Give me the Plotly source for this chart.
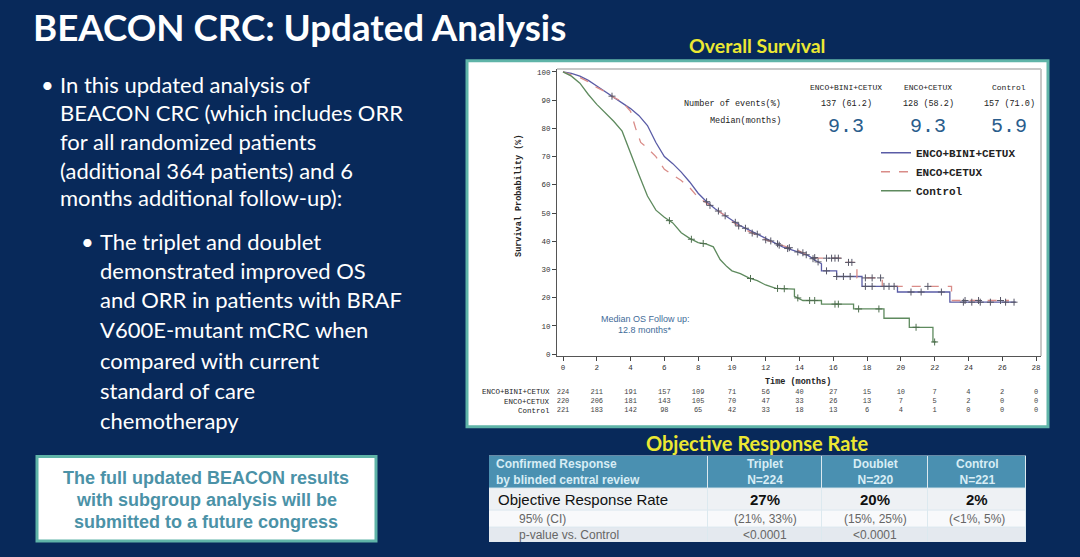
import numpy as np
import plotly.graph_objects as go

W, H = 1080, 557
def px(x): return x / W
def py(y): return 1 - y / H

# ---------------- data ----------------
arms = ["ENCO+BINI+CETUX", "ENCO+CETUX", "Control"]
events = ["137 (61.2)", "128 (58.2)", "157 (71.0)"]
medians = [9.3, 9.3, 5.9]

triplet_t = [0, 0.5, 1, 1.5, 2, 2.5, 3, 3.5, 4, 4.5, 5, 5.5, 6, 6.5, 7, 7.5, 8, 8.5, 9, 9.5, 10,
             10.5, 11, 11.5, 12, 12.5, 13, 13.5, 14, 14.5, 15, 15.3, 15.3, 16.2, 16.2, 17.7, 17.7,
             19.8, 19.8, 22.9, 22.9, 26.8]
triplet_s = [100, 99.5, 98.5, 97, 95, 93, 91, 89, 87, 84.5, 81, 75, 70, 67.5, 64.5, 61, 57, 54, 51.5, 49.5, 47.5,
             45.5, 44, 42.5, 41, 39.5, 38, 37, 36, 35, 33, 32, 29.5, 29.5, 27.5, 27.5, 24,
             24, 22, 22, 18.4, 18.4]

doublet_t = [0, 0.5, 1, 1.5, 2, 2.5, 3, 3.5, 4, 4.3, 4.6, 5, 5.5, 6, 6.5, 7, 7.5, 8, 8.5, 9, 9.5, 10,
             10.5, 11, 11.5, 12, 12.5, 13, 13.5, 14, 14.5, 15, 16.6, 16.6, 17.4, 17.4, 18.9, 18.9,
             23.0, 23.0, 26.4]
doublet_s = [100, 99, 98, 96.5, 94.5, 93, 91, 89.5, 86, 80, 75, 73, 70, 65.5, 63.5, 61.5, 59, 55.5, 53.5, 51.5, 49.5, 47,
             45, 43.5, 42, 40.5, 39.5, 38.5, 37.5, 36.5, 35, 34, 34, 32.5, 32.5, 27, 27, 24,
             24, 19, 19]

control_t = [0, 0.5, 1, 1.5, 2, 2.5, 3, 3.5, 4, 4.5, 5, 5.5, 6, 6.5, 7, 7.5, 8, 8.5, 8.9, 9.3, 9.7, 10,
             10.5, 11, 11.5, 12, 12.6, 13.7, 13.7, 14.2, 15.3, 15.3, 17.2, 17.2, 19.0, 19.0, 20.5, 20.5,
             21.9, 21.9, 22.1]
control_s = [100, 98.5, 96, 92, 88.5, 85.5, 82.5, 79, 71, 63.5, 56, 51, 48.5, 46.5, 43, 41, 39.5, 39, 38, 33.5, 31, 29.5,
             28.5, 27, 26, 24.5, 23.3, 23, 20.5, 19, 19, 17.7, 17.7, 16, 16, 12.7, 12.7, 9.5,
             9.5, 4.3, 4.3]

triplet_cens = [8.5, 9.2, 10.2, 10.8, 11.5, 12.3, 12.8, 13.3, 13.9, 14.4, 14.8, 15.1, 15.6, 16.2, 16.6,
                17.0, 17.9, 18.3, 19.0, 19.3, 20.6, 21.2, 22.4, 23.7, 24.2, 24.7, 25.3, 26.2, 26.7]
doublet_cens = [2.9, 8.7, 9.6, 10.4, 11.2, 12.0, 12.7, 13.4, 14.2, 14.9, 15.6, 15.9, 16.1, 16.3, 16.9,
                17.1, 17.9, 18.3, 18.8, 19.6, 21.6, 23.8, 24.6, 25.9]
control_cens = [6.3, 7.6, 8.3, 11.1, 12.7, 13.1, 13.9, 14.6, 14.9, 16.1, 16.3, 17.5, 18.7, 20.9, 22.0]

month_ticks = list(range(0, 30, 2))
surv_ticks = list(range(0, 110, 10))
at_risk_triplet = [224, 211, 191, 157, 109, 71, 56, 40, 27, 15, 10, 7, 4, 2, 0]
at_risk_doublet = [220, 206, 181, 143, 105, 70, 47, 33, 26, 13, 7, 5, 2, 0, 0]
at_risk_control = [221, 183, 142, 98, 65, 42, 33, 18, 13, 6, 4, 1, 0, 0, 0]

orr_header = ["Confirmed Response<br>by blinded central review", "Triplet<br>N=224",
              "Doublet<br>N=220", "Control<br>N=221"]
orr_rows = ["Objective Response Rate", "95% (CI)", "p-value vs. Control"]
orr_rate = ["27%", "20%", "2%"]
orr_ci = ["(21%, 33%)", "(15%, 25%)", "(&lt;1%, 5%)"]
orr_p = ["&lt;0.0001", "&lt;0.0001", ""]

title = "BEACON CRC: Updated Analysis"
bullet1 = ["In this updated analysis of", "BEACON CRC (which includes ORR",
           "for all randomized patients", "(additional 364 patients) and 6",
           "months additional follow-up):"]
bullet2 = ["The triplet and doublet", "demonstrated improved OS",
           "and ORR in patients with BRAF", "V600E-mutant mCRC when",
           "compared with current", "standard of care", "chemotherapy"]
box_text = ["The full updated BEACON results", "with subgroup analysis will be",
            "submitted to a future congress"]

# ---------------- styling ----------------
NAVY = "#08295a"
TEAL = "#5fb4a8"
MONO = "Liberation Mono"
SANS = "Liberation Sans"
COLORS = ["#5a5ca6", "#d98c88", "#5e8a5e"]
DASH = ["solid", "dash", "solid"]

def surv_at(ts, ss, c):
    ts = np.asarray(ts, float); ss = np.asarray(ss, float)
    i = np.searchsorted(ts, c, side="right") - 1
    i = min(max(i, 0), len(ts) - 2)
    t0, t1, s0, s1 = ts[i], ts[i + 1], ss[i], ss[i + 1]
    if t1 == t0:
        return s1
    return s0 + (s1 - s0) * (c - t0) / (t1 - t0)

fig = go.Figure()

curves = [(triplet_t, triplet_s, triplet_cens), (doublet_t, doublet_s, doublet_cens),
          (control_t, control_s, control_cens)]
for k, (ts, ss, cs) in enumerate(curves):
    fig.add_trace(go.Scatter(x=ts, y=ss, mode="lines", name="<b>%s</b>" % arms[k],
                             line=dict(color=COLORS[k], width=1.3, dash=DASH[k]),
                             hoverinfo="skip"))
for k, (ts, ss, cs) in enumerate(curves):
    fig.add_trace(go.Scatter(x=cs, y=[surv_at(ts, ss, c) for c in cs], mode="markers",
                             showlegend=False, hoverinfo="skip",
                             marker=dict(symbol="cross-thin", size=5,
                                         line=dict(color="#555566" if k < 2 else "#4f6f4f", width=1))))

# numbers at risk on a helper axis below the plot
for k, vals in enumerate([at_risk_triplet, at_risk_doublet, at_risk_control]):
    fig.add_trace(go.Scatter(x=month_ticks, y=[k + 1] * len(vals), mode="text", yaxis="y2",
                             text=[str(v) for v in vals], showlegend=False,
                             textfont=dict(family=MONO, size=7, color="#444"), hoverinfo="skip"))

# ORR table as a heatmap grid (cell fills) with text annotations
col_w = [219, 114, 106, 98]
row_h = [33, 22, 17, 15]
x_edges = np.concatenate([[0], np.cumsum(col_w)])
y_edges = np.concatenate([[0], np.cumsum(row_h)])
row_colors = ["#4a90b1", "#eef1f4", "#f8f9fb", "#e4e9ef"]
cscale = []
for i, c in enumerate(row_colors):
    cscale += [[i / 4, c], [(i + 1) / 4, c]]
fig.add_trace(go.Heatmap(x=x_edges, y=y_edges, z=[[r] * 4 for r in range(4)],
                         xaxis="x3", yaxis="y3", zmin=-0.5, zmax=3.5, colorscale=cscale,
                         showscale=False, xgap=1, ygap=1, hoverinfo="skip"))

axfont = dict(family=MONO, size=7.5, color="#333")
fig.update_layout(
    width=W, height=H, margin=dict(l=0, r=0, t=0, b=0),
    paper_bgcolor=NAVY, plot_bgcolor="rgba(0,0,0,0)",
    xaxis=dict(domain=[px(557), px(1041)], range=[-0.355, 28.296], tickvals=month_ticks,
               ticks="outside", ticklen=4, tickcolor="#444", showline=True, linecolor="#555",
               linewidth=1.2, showgrid=False, zeroline=False, tickfont=axfont),
    yaxis=dict(domain=[py(358), py(69.3)], range=[-0.7, 101.06], tickvals=surv_ticks,
               ticks="outside", ticklen=4, tickcolor="#444", showline=True, linecolor="#555",
               linewidth=1.2, showgrid=False, zeroline=False, tickfont=axfont),
    yaxis2=dict(domain=[py(418), py(389)], range=[3.6, 0.4], anchor="x", visible=False,
                showgrid=False, zeroline=False),
    xaxis3=dict(domain=[px(489), px(1026)], range=[0, x_edges[-1]], anchor="y3", visible=False),
    yaxis3=dict(domain=[py(545), py(458)], range=[y_edges[-1], 0], anchor="x3", visible=False),
    legend=dict(x=px(876), y=py(139), xanchor="left", yanchor="top", bgcolor="rgba(0,0,0,0)",
                font=dict(family=MONO, size=11, color="#222"), tracegroupgap=0),
    showlegend=True,
)

shapes = [
    dict(type="rect", xref="paper", yref="paper", x0=px(467), x1=px(1048), y0=py(429), y1=py(61),
         fillcolor="white", line=dict(color=TEAL, width=3), layer="below"),
    dict(type="line", xref="x domain", yref="y domain", x0=0, x1=1, y0=1, y1=1,
         line=dict(color="#c8c8c8", width=2)),
    dict(type="line", xref="x domain", yref="y domain", x0=1, x1=1, y0=0, y1=1,
         line=dict(color="#c8c8c8", width=2)),
    dict(type="rect", xref="paper", yref="paper", x0=px(37), x1=px(376), y0=py(544), y1=py(459),
         fillcolor="white", line=dict(color=TEAL, width=3), layer="below"),
    dict(type="rect", xref="x3 domain", yref="y3 domain", x0=0, x1=1, y0=0, y1=1,
         fillcolor="#dce9ef", line=dict(width=0), layer="below"),
]
fig.update_layout(shapes=shapes)

ann = []
def A(x, y, text, size, color, family="Lato", xanchor="left", **kw):
    ann.append(dict(xref="paper", yref="paper", x=px(x), y=py(y), text=text, showarrow=False,
                    xanchor=xanchor, yanchor="middle", font=dict(family=family, size=size, color=color), **kw))

def T(col, row, text, size, color, pad=None):
    # text inside the ORR table, in the table's own axis units
    yc = (y_edges[row] + y_edges[row + 1]) / 2
    if pad is None:
        x, xa = (x_edges[col] + x_edges[col + 1]) / 2, "center"
    else:
        x, xa = x_edges[col] + pad, "left"
    ann.append(dict(xref="x3", yref="y3", x=x, y=yc, text=text, showarrow=False, xanchor=xa,
                    yanchor="middle", align="left" if pad is not None else "center",
                    font=dict(family=SANS, size=size, color=color)))

A(31, 27, "<b>%s</b>" % title, 36.7, "white")
for line, y in zip(bullet1, [85, 113, 142, 171, 199]):
    A(58, y, line, 22, "white")
A(39, 85, "•", 22, "white")
for line, y in zip(bullet2, [243, 272, 301, 331, 362, 393, 423]):
    A(98, y, line, 22, "white")
A(79, 243, "•", 22, "white")
for line, y in zip(box_text, [481, 503, 525]):
    A(206, y, "<b>%s</b>" % line, 18, "#4b92a7", family=SANS, xanchor="center")

A(757, 46, "<b>Overall Survival</b>", 19.5, "#ece832", xanchor="center")
A(757, 445, "<b>Objective Response Rate</b>", 20, "#ece832", xanchor="center")

# ORR table texts
HDR = "#d8edf5"
T(0, 0, "<b>%s</b>" % orr_header[0], 12, HDR, pad=5)
for j in range(1, 4):
    T(j, 0, "<b>%s</b>" % orr_header[j], 12, HDR)
T(0, 1, orr_rows[0], 15, "#111111", pad=7)
T(0, 2, orr_rows[1], 12, "#666666", pad=28)
T(0, 3, orr_rows[2], 12, "#666666", pad=28)
for j in range(3):
    T(j + 1, 1, "<b>%s</b>" % orr_rate[j], 15, "#111111")
    T(j + 1, 2, orr_ci[j], 12, "#666666")
    if orr_p[j]:
        T(j + 1, 3, orr_p[j], 12, "#666666")

# KM header block
col_x = [846, 928, 1009]
A(783, 104.5, "Number of events(%)", 8.5, "#222", family=MONO, xanchor="right")
A(783, 122, "Median(months)", 8.5, "#222", family=MONO, xanchor="right")
for j in range(3):
    A(col_x[j], 88, arms[j], 8, "#222", family=MONO, xanchor="center")
    A(col_x[j], 104.5, events[j], 8.5, "#222", family=MONO, xanchor="center")
    A(col_x[j], 127, "%.1f" % medians[j], 20, "#2a5d8c", family=MONO, xanchor="center")

A(519, 197, "<b>Survival Probability (%)</b>", 8.5, "#222", family=MONO, xanchor="center",
  textangle=-90)
A(798, 384, "<b>Time (months)</b>", 8.5, "#222", family=MONO, xanchor="center")
for j, y in enumerate([394.3, 404, 413.3]):
    A(552, y, arms[j], 7.5, "#222", family=MONO, xanchor="right")

A(645, 321, "Median OS Follow up:", 9, "#3f6c99", family=SANS, xanchor="center")
A(645, 332, "12.8 months*", 9, "#3f6c99", family=SANS, xanchor="center")

fig.update_layout(annotations=ann)
fig.write_html("out.html", config={"displayModeBar": False},
               post_script="document.body.style.margin='0';")
